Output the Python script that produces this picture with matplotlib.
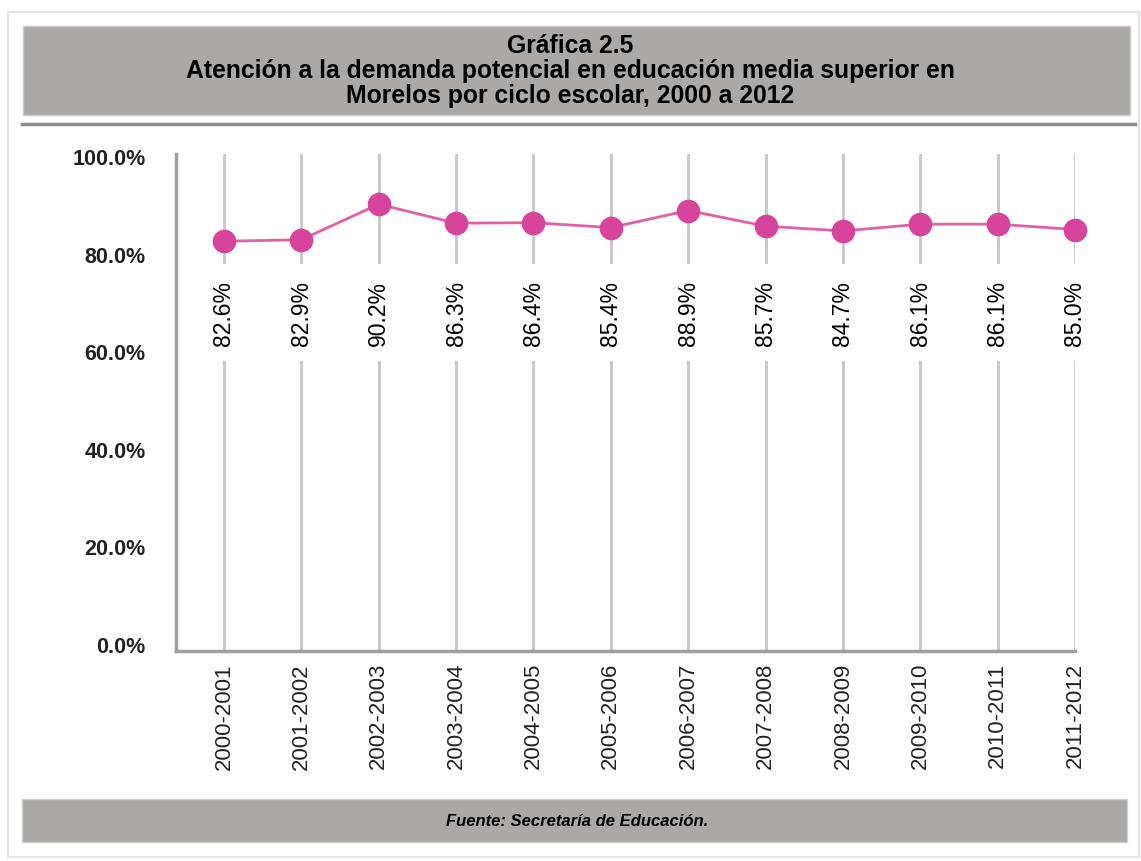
import matplotlib
matplotlib.use("Agg")
import matplotlib.pyplot as plt
from matplotlib.patches import Rectangle
from matplotlib.lines import Line2D

# ---------------------------------------------------------------------------
# Data
# ---------------------------------------------------------------------------
ciclos = ["2000-2001", "2001-2002", "2002-2003", "2003-2004", "2004-2005",
          "2005-2006", "2006-2007", "2007-2008", "2008-2009", "2009-2010",
          "2010-2011", "2011-2012"]
atencion = [82.6, 82.9, 90.2, 86.3, 86.4, 85.4, 88.9, 85.7, 84.7, 86.1, 86.1, 85.0]
yticks = [0, 20, 40, 60, 80, 100]

title = ("Gráfica 2.5\n"
         "Atención a la demanda potencial en educación media superior en\n"
         "Morelos por ciclo escolar, 2000 a 2012")
fuente = "Fuente: Secretaría de Educación."

plt.rcParams["font.family"] = ["Liberation Sans", "DejaVu Sans"]

W, H = 1141, 862
fig = plt.figure(figsize=(W / 100, H / 100), dpi=100)
fig.patch.set_facecolor("white")


def px_rect(x0, y0, x1, y1, **kw):
    # rectangle in pixel coords (origin top-left)
    return Rectangle((x0 / W, 1 - y1 / H), (x1 - x0) / W, (y1 - y0) / H,
                     transform=fig.transFigure, zorder=-1, **kw)


box_grey = "#aca8a7"
# outer faint frame
fig.patches.append(px_rect(8, 13, 1139, 858, fc="none", ec="#e4e4e4", lw=1.5))
# title band + rule
fig.patches.append(px_rect(23, 27, 1130, 116, fc=box_grey, ec="#d0cdcc", lw=1))
fig.lines.append(Line2D([22 / W, 1135 / W], [1 - 125 / H] * 2,
                        transform=fig.transFigure, color="#8e8b8a", lw=2.5))
# footer band
fig.patches.append(px_rect(22, 800, 1127, 843, fc=box_grey, ec="#d0cdcc", lw=1))

fig.text(0.5, 1 - 71 / H, title, ha="center", va="center", fontsize=17.8,
         fontweight="bold", linespacing=1.06)
fig.text(577 / W, 1 - 822 / H, fuente, ha="center", va="center", fontsize=12,
         fontweight="bold", style="italic")

# ---------------------------------------------------------------------------
# Plot area
# ---------------------------------------------------------------------------
ax = fig.add_axes([176 / W, 1 - 652 / H, (1075 - 176) / W, (652 - 155) / H])
ax.patch.set_alpha(0)
x = list(range(len(ciclos)))
ax.plot(x, atencion, color="#e060a8", lw=2, marker="o", markersize=16,
        markerfacecolor="#d8439b", markeredgecolor="#d8439b", zorder=4,
        clip_on=False)

for xi, v in zip(x, atencion):
    ax.text(xi, 68.0, f"{v:.1f}%", rotation=90, ha="center", va="center",
            fontsize=16.5, zorder=3,
            bbox=dict(boxstyle="square,pad=0.7", fc="white", ec="none"))

ax.set_xlim(-0.62, 11)
ax.set_ylim(-1.5, 100.5)
ax.set_xticks(x)
ax.set_xticklabels(ciclos, rotation=90, fontsize=16)
ax.set_yticks(yticks)
ax.set_yticklabels([f"{t:.1f}%" for t in yticks], fontsize=15.5, fontweight="bold")
ax.tick_params(axis="both", length=0, colors="#222222")
ax.tick_params(axis="y", pad=22)
ax.tick_params(axis="x", pad=8)

ax.set_axisbelow(True)
ax.grid(axis="x", color="#c5c5cb", lw=2)
ax.grid(axis="y", visible=False)
for side in ("top", "right"):
    ax.spines[side].set_visible(False)
for side in ("left", "bottom"):
    ax.spines[side].set_color("#a09e9e")
    ax.spines[side].set_linewidth(2.5)

fig.savefig("out.png", dpi=100)
